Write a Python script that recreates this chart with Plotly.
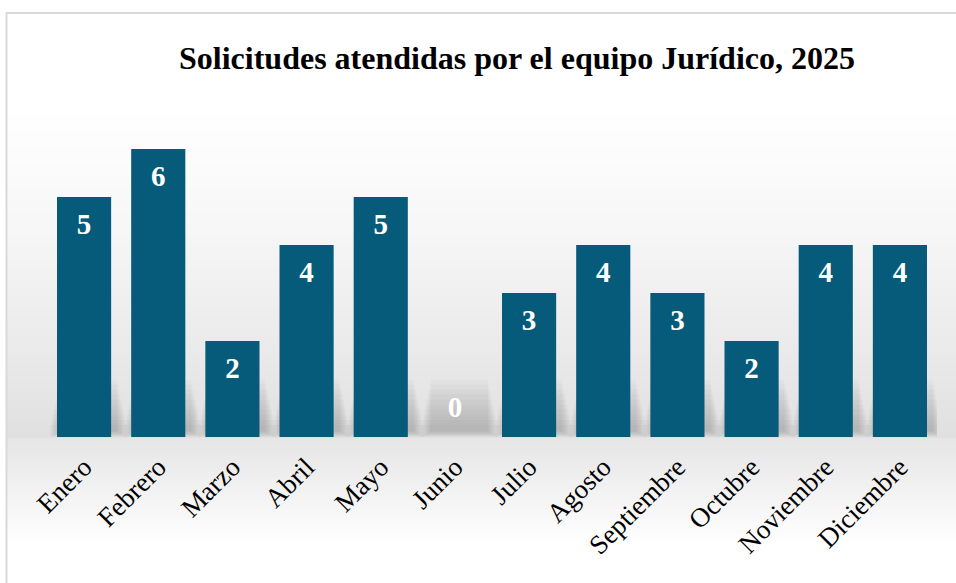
import plotly.graph_objects as go

meses = ["Enero", "Febrero", "Marzo", "Abril", "Mayo", "Junio", "Julio",
         "Agosto", "Septiembre", "Octubre", "Noviembre", "Diciembre"]
solicitudes = [5, 6, 2, 4, 5, 0, 3, 4, 3, 2, 4, 4]
titulo = "Solicitudes atendidas por el equipo Jurídico, 2025"

W, H = 956, 583
ML, MR, MT, MB = 47, 19, 101, 146
PW, PH = W - ML - MR, H - MT - MB

def px_x(px):  # screen pixel -> paper
    return (px - ML) / PW

def px_y(py):
    return (H - MB - py) / PH

SERIF = "Liberation Serif, Times New Roman, serif"

fig = go.Figure()
fig.add_trace(go.Bar(
    x=meses, y=solicitudes,
    marker=dict(color="#065b7a", line=dict(width=0)),
    hoverinfo="x+y",
))
label_y = [v - 0.63 if v > 0 else 0.56 for v in solicitudes]
fig.add_trace(go.Scatter(
    x=meses, y=label_y, mode="text", text=[str(v) for v in solicitudes],
    textfont=dict(family=SERIF, size=29, color="white", weight="bold"),
    hoverinfo="skip", cliponaxis=False,
))

shapes = []
# background gradient
step = 3
for py in range(0, 590, step):
    yc = py + step / 2
    if yc <= 437:
        t = max(0.0, (yc - 100) / (437 - 100))
        g = 255 - 31 * t ** 1.3
    else:
        t = min(1.0, (yc - 437) / (545 - 437))
        g = 229 + 26 * t
    g = int(round(g))
    shapes.append(dict(type="rect", xref="paper", yref="paper", layer="below",
                       x0=px_x(7), x1=px_x(980), y0=px_y(py + step), y1=px_y(py),
                       fillcolor=f"rgb({g},{g},{g})", line=dict(width=0)))
# soft shadows behind the bars
n_layers = 10
for i, v in enumerate(solicitudes):
    for k in range(n_layers):
        f = k / (n_layers - 1)
        dx = 0.52 - 0.14 * f
        top = 0.25 + 0.95 * f
        bottom = 0.12 * f
        shapes.append(dict(type="rect", xref="x", yref="y", layer="below",
                           x0=i - dx + 0.06, x1=i + dx + 0.06, y0=bottom, y1=top,
                           fillcolor="rgba(110,110,110,0.045)", line=dict(width=0)))
# border
shapes.append(dict(type="rect", xref="paper", yref="paper", layer="above",
                   x0=px_x(6.5), x1=px_x(990), y0=px_y(600), y1=px_y(13),
                   fillcolor="rgba(0,0,0,0)", line=dict(color="#d9d9d9", width=2)))

fig.update_layout(
    width=W, height=H,
    margin=dict(l=ML, r=MR, t=MT, b=MB, autoexpand=False),
    paper_bgcolor="white", plot_bgcolor="rgba(0,0,0,0)",
    showlegend=False, bargap=0.27,
    title=dict(text=titulo, x=517 / W, xanchor="center",
               y=1 - 58 / H, yanchor="middle",
               font=dict(family=SERIF, size=32, color="black", weight="bold")),
    xaxis=dict(range=[-0.5, len(meses) - 0.5], showgrid=False, showline=False,
               zeroline=False, ticks="", tickangle=-45, ticklabelstandoff=8,
               automargin=False,
               tickfont=dict(family=SERIF, size=27, color="black")),
    yaxis=dict(range=[0, 7], visible=False, showgrid=False, zeroline=False,
               automargin=False),
    shapes=shapes,
)
fig.write_html("out.html", config={"displayModeBar": False},
               post_script="document.body.style.margin='0';")
